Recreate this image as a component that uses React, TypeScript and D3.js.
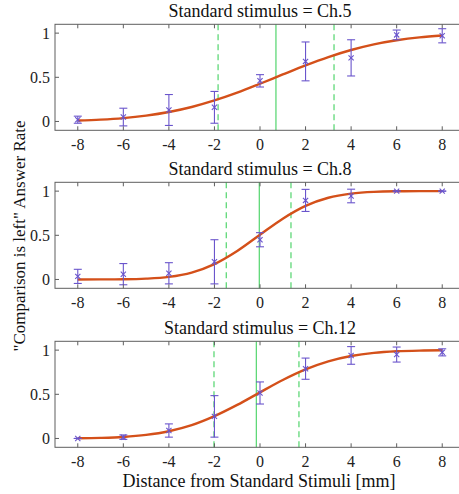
import React from 'react';
import * as d3 from 'd3';

const W = 459;
const H = 494;

// stimulus distance (mm) where responses were measured
const distances = [-8, -6, -4, -2, 0, 2, 4, 6, 8];
const xTicks = [-8, -6, -4, -2, 0, 2, 4, 6, 8];
const yTicks = [0, 0.5, 1];
const yTickLabels = ['0', '0.5', '1'];

const titles = ['Standard stimulus = Ch.5', 'Standard stimulus = Ch.8', 'Standard stimulus = Ch.12'];

// mean answer rate and error (half length of bar)
const ch5Mean = [0.02, 0.05, 0.13, 0.16, 0.46, 0.68, 0.72, 0.98, 0.97];
const ch5Err = [0.04, 0.1, 0.175, 0.18, 0.07, 0.22, 0.205, 0.055, 0.08];
const ch8Mean = [0.035, 0.06, 0.07, 0.2, 0.45, 0.895, 0.945, 1.0, 1.0];
const ch8Err = [0.08, 0.12, 0.12, 0.25, 0.08, 0.125, 0.077, 0.0, 0.0];
const ch12Mean = [0.0, 0.015, 0.09, 0.25, 0.515, 0.79, 0.94, 0.95, 0.975];
const ch12Err = [0.0, 0.025, 0.075, 0.235, 0.125, 0.12, 0.1, 0.085, 0.04];

// fitted psychometric curve, read at each mm from -8 to 8
const curveX = [-8, -7, -6, -5, -4, -3, -2, -1, 0, 1, 2, 3, 4, 5, 6, 7, 8];
const ch5Curve = [0.011, 0.021, 0.038, 0.066, 0.107, 0.164, 0.238, 0.326, 0.427, 0.532, 0.635, 0.729, 0.809, 0.873, 0.919, 0.952, 0.973];
const ch8Curve = [0.0001, 0.0005, 0.002, 0.009, 0.029, 0.078, 0.174, 0.322, 0.506, 0.688, 0.833, 0.925, 0.972, 0.992, 0.998, 0.9996, 1.0];
const ch12Curve = [0.0023, 0.0067, 0.017, 0.04, 0.082, 0.151, 0.253, 0.38, 0.522, 0.662, 0.782, 0.873, 0.933, 0.969, 0.987, 0.995, 0.998];

// point of subjective equality (solid) and 25% / 75% points (dashed)
const pse = [0.7, -0.03, -0.16];
const lowThr = [-1.84, -1.48, -2.02];
const highThr = [3.25, 1.36, 1.71];

const means = [ch5Mean, ch8Mean, ch12Mean];
const errs = [ch5Err, ch8Err, ch12Err];
const curves = [ch5Curve, ch8Curve, ch12Curve];

const panelTops = [24.3, 182.3, 341.3];
const panelH = 106;
const left = 55;
const right = 465;

const FONT = '"Liberation Serif", "Times New Roman", serif';
const AXIS = '#5e5e5e';
const FIT = '#d4501a';
const BAR = '#6a55cc';
const GREEN = '#5fd878';

function Panel({ i }: { i: number }) {
  const top = panelTops[i];
  const bottom = top + panelH;
  const x = d3.scaleLinear().domain([-9, 9]).range([left, right]);
  const y = d3.scaleLinear().domain([-0.1, 1.1]).range([bottom, top]);
  const line = d3
    .line<number>()
    .x((_, k) => x(curveX[k]))
    .y((v) => y(v))
    .curve(d3.curveMonotoneX);

  return (
    <g>
      <text x={(left + right) / 2} y={top - 7.5} textAnchor="middle" fontFamily={FONT} fontSize={18} fill="#111">
        {titles[i]}
      </text>

      {/* reference lines */}
      <line x1={x(pse[i])} x2={x(pse[i])} y1={top} y2={bottom} stroke={GREEN} strokeWidth={1.3} />
      {[lowThr[i], highThr[i]].map((t, k) => (
        <line key={k} x1={x(t)} x2={x(t)} y1={top} y2={bottom} stroke={GREEN} strokeWidth={1.3} strokeDasharray="6,4" />
      ))}

      <path d={line(curves[i]) || ''} fill="none" stroke={FIT} strokeWidth={2.4} />

      {/* error bars */}
      {distances.map((d, k) => {
        const cx = x(d);
        const cy = y(means[i][k]);
        const y1 = y(means[i][k] + errs[i][k]);
        const y2 = y(means[i][k] - errs[i][k]);
        const m = 2.6;
        return (
          <g key={k} stroke={BAR} strokeWidth={1.1}>
            <line x1={cx} x2={cx} y1={y1} y2={y2} />
            <line x1={cx - 4} x2={cx + 4} y1={y1} y2={y1} />
            <line x1={cx - 4} x2={cx + 4} y1={y2} y2={y2} />
            <line x1={cx - m} x2={cx + m} y1={cy - m} y2={cy + m} />
            <line x1={cx - m} x2={cx + m} y1={cy + m} y2={cy - m} />
          </g>
        );
      })}

      {/* axes box */}
      <rect x={left} y={top} width={right - left} height={panelH} fill="none" stroke={AXIS} strokeWidth={1} />
      {xTicks.map((t) => (
        <g key={t}>
          <line x1={x(t)} x2={x(t)} y1={bottom} y2={bottom - 4} stroke={AXIS} />
          <line x1={x(t)} x2={x(t)} y1={top} y2={top + 4} stroke={AXIS} />
          <text x={x(t)} y={bottom + 20} textAnchor="middle" fontFamily={FONT} fontSize={16} fill="#222">
            {t}
          </text>
        </g>
      ))}
      {yTicks.map((t, k) => (
        <g key={t}>
          <line x1={left} x2={left + 4} y1={y(t)} y2={y(t)} stroke={AXIS} />
          <text x={left - 5} y={y(t)} dy="0.35em" textAnchor="end" fontFamily={FONT} fontSize={16} fill="#222">
            {yTickLabels[k]}
          </text>
        </g>
      ))}
    </g>
  );
}

export default function App() {
  return (
    <div style={{ position: 'absolute', left: 0, top: 0 }}>
      <svg width={W} height={H} viewBox={`0 0 ${W} ${H}`} style={{ display: 'block', background: '#fff' }}>
        {[0, 1, 2].map((i) => (
          <Panel key={i} i={i} />
        ))}
        <text
          transform={`translate(24.5, 236) rotate(-90)`}
          textAnchor="middle"
          fontFamily={FONT}
          fontSize={17}
          fill="#111"
        >
          "Comparison is left" Answer Rate
        </text>
        <text x={259} y={487} textAnchor="middle" fontFamily={FONT} fontSize={18} fill="#111">
          Distance from Standard Stimuli [mm]
        </text>
      </svg>
    </div>
  );
}
